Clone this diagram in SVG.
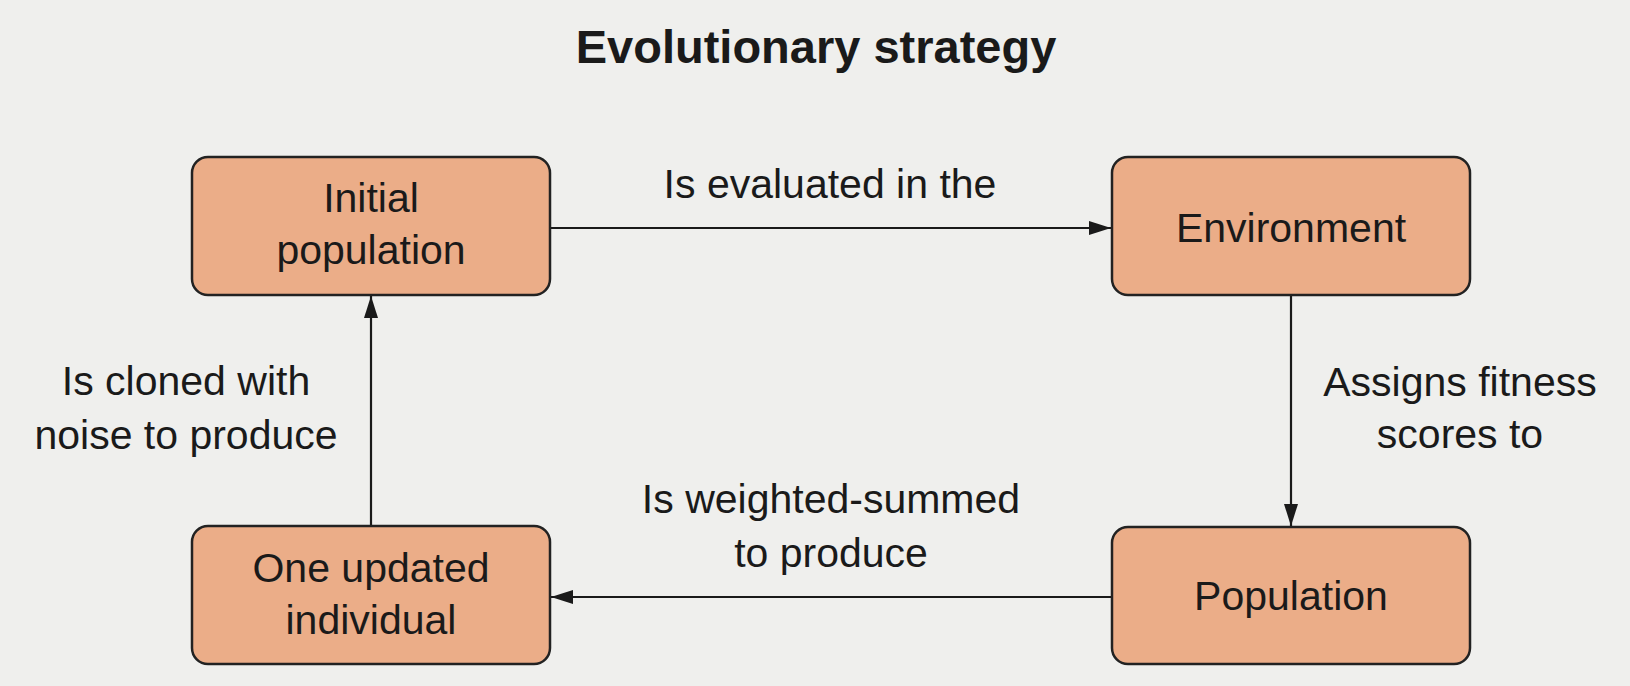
<svg xmlns="http://www.w3.org/2000/svg" width="1630" height="686" viewBox="0 0 1630 686">
<style>
.bg{fill:#efefed}
.node{fill:#ebad88;stroke:#222;stroke-width:2.5}
.t{font-family:"Liberation Sans",Arial,sans-serif;font-size:41px;fill:#1a1a1a;text-anchor:middle}
.title{font-family:"Liberation Sans",Arial,sans-serif;font-size:47px;font-weight:bold;fill:#1a1a1a;text-anchor:middle}
.edge{stroke:#1a1a1a;stroke-width:2.2;fill:none}
</style>
<defs>
<marker id="arr" markerUnits="userSpaceOnUse" markerWidth="24" markerHeight="16" refX="22" refY="7" orient="auto">
<path d="M0,0 L22,7 L0,14 Z" fill="#1a1a1a"/>
</marker>
</defs>
<rect class="bg" x="0" y="0" width="1630" height="686"/>
<text class="title" x="816" y="63">Evolutionary strategy</text>
<g id="connectors">
<line class="edge" x1="550" y1="228" x2="1111" y2="228" marker-end="url(#arr)"/>
<line class="edge" x1="1291" y1="295" x2="1291" y2="526" marker-end="url(#arr)"/>
<line class="edge" x1="1111" y1="597" x2="551" y2="597" marker-end="url(#arr)"/>
<line class="edge" x1="371" y1="526" x2="371" y2="296" marker-end="url(#arr)"/>
<text class="t" x="830" y="198">Is evaluated in the</text>
<text class="t" x="1460" y="396">Assigns fitness</text>
<text class="t" x="1460" y="448">scores to</text>
<text class="t" x="831" y="513">Is weighted-summed</text>
<text class="t" x="831" y="567">to produce</text>
<text class="t" x="186" y="395">Is cloned with</text>
<text class="t" x="186" y="449">noise to produce</text>
</g>
<g id="initial">
<rect class="node" x="192" y="157" width="358" height="138" rx="16"/>
<text class="t" x="371" y="212">Initial</text>
<text class="t" x="371" y="264">population</text>
</g>
<g id="environment">
<rect class="node" x="1112" y="157" width="358" height="138" rx="16"/>
<text class="t" x="1291" y="242">Environment</text>
</g>
<g id="updated">
<rect class="node" x="192" y="526" width="358" height="138" rx="16"/>
<text class="t" x="371" y="582">One updated</text>
<text class="t" x="371" y="634">individual</text>
</g>
<g id="population">
<rect class="node" x="1112" y="527" width="358" height="137" rx="16"/>
<text class="t" x="1291" y="610">Population</text>
</g>
</svg>
